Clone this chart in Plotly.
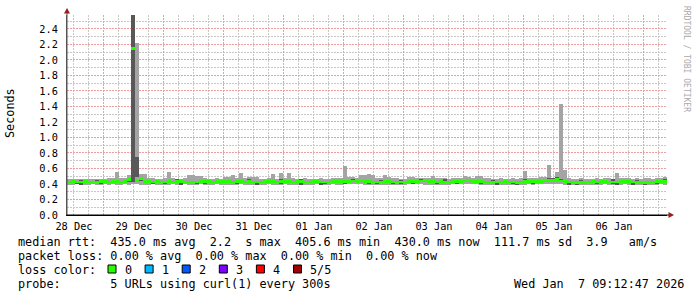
import plotly.graph_objects as go
import pandas as pd

# ---------------- data (milliseconds) ----------------
start = "2025-12-28 09:12:47"
end = "2026-01-07 09:12:47"
bin_minutes = 96

median_ms = [
    425,428,424,426,430,427,422,425,428,431,
    426,429,432,427,430,462,2150,440,475,436,
    428,425,430,427,424,429,426,431,428,425,
    422,418,424,430,433,428,426,430,435,432,
    429,427,431,428,425,430,427,424,426,429,
    431,428,426,430,433,429,426,428,431,427,
    425,428,430,427,424,426,429,432,428,430,
    433,438,435,440,432,429,426,424,427,430,
    428,425,421,424,427,430,433,436,440,438,
    432,429,426,428,425,427,431,434,436,438,
    442,436,432,429,426,423,420,424,427,429,
    426,424,421,425,428,431,429,432,435,438,
    442,448,455,438,430,426,422,420,418,421,
    425,428,426,430,433,427,424,426,429,431,
    428,425,422,420,418,421,425,428,431,429,
]
smoke_hi_ms = [
    465,468,462,466,470,464,468,463,466,470,
    472,478,555,480,475,516,2580,2220,530,525,
    478,472,468,470,475,550,474,468,470,472,
    520,520,500,500,475,470,468,472,466,494,
    494,516,472,546,478,494,494,494,470,468,
    472,529,470,546,480,546,475,470,468,472,
    466,470,468,472,470,468,475,478,480,636,
    490,485,482,520,520,529,510,478,474,516,
    485,478,472,470,468,494,494,480,476,478,
    474,502,482,478,474,470,472,476,480,500,
    486,478,500,500,482,476,470,468,472,470,
    468,472,470,474,572,478,475,480,485,490,
    645,480,559,1432,580,478,470,468,472,470,
    466,468,472,470,474,478,470,546,480,476,
    472,470,474,468,472,476,470,474,478,490,
]
smoke_lo_ms = [
    392,388,395,390,386,393,398,390,387,394,
    390,395,388,392,396,390,400,398,392,388,
    391,395,389,393,386,390,394,388,392,396,
    388,384,390,395,392,388,391,395,389,393,
    390,386,392,395,389,393,390,386,388,392,
    395,390,387,392,396,391,388,393,390,386,
    389,393,396,390,387,392,395,391,388,394,
    397,400,398,395,392,389,386,384,388,392,
    390,387,384,388,391,394,397,399,395,392,
    393,390,387,389,386,391,394,396,398,400,
    402,398,394,391,388,386,383,387,390,392,
    389,386,384,388,392,395,392,394,397,400,
    402,404,400,398,392,388,385,384,382,385,
    388,391,389,392,395,390,387,388,391,394,
    391,388,385,383,381,384,388,391,394,392,
]
dark_hi_ms = [
    440,445,438,452,446,442,437,455,443,448,
    441,447,450,442,445,480,2580,750,490,452,
    443,440,458,442,439,445,441,460,443,440,
    437,433,440,447,450,443,441,456,451,448,
    445,442,448,443,440,462,442,439,441,445,
    447,443,441,460,449,445,441,443,462,442,
    440,443,446,442,439,441,458,448,443,447,
    450,465,452,458,448,444,441,439,455,446,
    443,440,436,458,442,446,449,452,468,454,
    448,444,441,443,462,442,447,450,452,455,
    468,452,448,444,441,438,455,439,442,445,
    441,439,436,440,470,447,445,448,451,455,
    472,478,490,470,446,441,437,435,452,436,
    440,443,441,446,449,442,460,441,445,447,
    443,440,458,435,433,437,440,443,447,462,
]
dark_lo_ms = [
    410,412,406,390,414,408,405,410,395,412,
    408,411,414,409,412,430,430,490,445,418,
    410,396,412,409,405,411,408,413,392,407,
    404,400,406,412,395,410,408,412,417,414,
    411,409,394,410,407,412,409,392,408,411,
    413,410,408,395,415,411,408,410,393,409,
    407,410,412,392,406,408,411,414,410,395,
    415,420,417,422,414,398,408,406,409,412,
    410,394,403,406,409,412,396,418,422,420,
    414,411,395,410,407,409,413,398,418,420,
    424,418,414,396,408,405,402,388,409,411,
    408,406,390,407,410,413,398,414,417,420,
    424,430,435,420,412,392,404,386,400,403,
    407,410,394,412,415,409,406,390,411,413,
    410,392,404,402,385,403,407,398,413,411,
]

y_ticks = [0.0, 0.2, 0.4, 0.6, 0.8, 1.0, 1.2, 1.4, 1.6, 1.8, 2.0, 2.2, 2.4]

legend_lines = [
    "median rtt:  435.0 ms avg  2.2  s max  405.6 ms min  430.0 ms now  111.7 ms sd  3.9   am/s",
    "packet loss: 0.00 % avg  0.00 % max  0.00 % min  0.00 % now",
    "loss color:",
    "probe:       5 URLs using curl(1) every 300s",
]
loss_labels = ["0", "1", "2", "3", "4", "5/5"]
loss_colors = ["#26ff00", "#00b8ff", "#0059ff", "#7e00ff", "#ff0000", "#a00000"]
timestamp = "Wed Jan  7 09:12:47 2026"
watermark = "RRDTOOL / TOBI OETIKER"

# ---------------- derived ----------------
n = len(median_ms)
times = pd.date_range(start, periods=n, freq=f"{bin_minutes}min") + pd.Timedelta(minutes=bin_minutes / 2)
bw = bin_minutes * 60 * 1000
s = lambda a: [v / 1000 for v in a]

# plot area in pixels
L, R, T, B = 67, 667, 15, 215
W, H = R - L, B - T
px = lambda x: (x - L) / W
py = lambda y: (B - y) / H

fig = go.Figure()
fig.add_bar(x=times, base=s(smoke_lo_ms), y=[(h - l) / 1000 for h, l in zip(smoke_hi_ms, smoke_lo_ms)],
            width=bw, marker=dict(color="#a4a4a4", line=dict(width=0)))
fig.add_bar(x=times, base=s(dark_lo_ms), y=[(h - l) / 1000 for h, l in zip(dark_hi_ms, dark_lo_ms)],
            width=bw, marker=dict(color="#585858", line=dict(width=0)))
thick = 2.7 / (H / 2.58)
fig.add_bar(x=times, base=[m / 1000 - thick / 2 for m in median_ms], y=[thick] * n,
            width=bw, marker=dict(color=loss_colors[0], line=dict(width=0)))

mono = "DejaVu Sans Mono"
major_grid = "#eaa0a0"
minor_grid = "#c8c8c8"

fig.update_layout(
    width=697, height=297,
    margin=dict(l=L, r=697 - R, t=T, b=297 - B),
    plot_bgcolor="white", paper_bgcolor="white",
    barmode="overlay", bargap=0, showlegend=False,
    font=dict(family=mono, size=10.3, color="#000"),
    xaxis=dict(
        type="date", range=[start, end],
        dtick=86400000, tick0="2025-12-28", tickformat="%d %b", ticklabelmode="period",
        showgrid=True, gridcolor=major_grid, griddash="2px,1px", gridwidth=1,
        minor=dict(dtick=21600000, tick0="2025-12-28", showgrid=True,
                   gridcolor=minor_grid, griddash="2px,1px", gridwidth=1),
        showline=True, linecolor="#000", linewidth=1, ticks="", zeroline=False,
        ticklabelstandoff=2,
        tickfont=dict(family=mono, size=10.3, color="#000"),
    ),
    yaxis=dict(
        range=[0, 2.58], tickvals=y_ticks, tickformat=".1f",
        showgrid=True, gridcolor=major_grid, griddash="2px,1px", gridwidth=1,
        minor=dict(dtick=0.1, tick0=0, showgrid=True, gridcolor=minor_grid, griddash="2px,1px"),
        showline=True, linecolor="#555", linewidth=1, ticks="", zeroline=False,
        ticklabelstandoff=6,
        tickfont=dict(family=mono, size=10.3, color="#000"),
    ),
)

shapes = []
# axis extensions & arrows
shapes.append(dict(type="line", xref="paper", yref="paper", x0=px(67), x1=px(67), y0=py(215), y1=py(11),
                   line=dict(color="#555", width=1)))
shapes.append(dict(type="line", xref="paper", yref="paper", x0=px(67), x1=px(671), y0=py(215), y1=py(215),
                   line=dict(color="#000", width=1)))
shapes.append(dict(type="path", xref="paper", yref="paper",
                   path=f"M {px(64)} {py(13.5)} L {px(70)} {py(13.5)} L {px(67)} {py(8)} Z",
                   fillcolor="#9b1c1c", line=dict(width=0)))
shapes.append(dict(type="path", xref="paper", yref="paper",
                   path=f"M {px(668.5)} {py(212)} L {px(668.5)} {py(218)} L {px(674)} {py(215)} Z",
                   fillcolor="#9b1c1c", line=dict(width=0)))

annotations = []
line_y = [241.5, 255.5, 269.5, 283.5]
for txt, yy in zip(legend_lines, line_y):
    annotations.append(dict(text=txt.replace(" ", "&nbsp;"), xref="paper", yref="paper", x=px(15.5), y=py(yy),
                            xanchor="left", yanchor="middle", showarrow=False,
                            font=dict(family=mono, size=11.8, color="#000")))
for k, (lab, col) in enumerate(zip(loss_labels, loss_colors)):
    bx = 108 + 37.1 * k
    shapes.append(dict(type="rect", xref="paper", yref="paper",
                       x0=px(bx), x1=px(bx + 8), y0=py(273), y1=py(265),
                       fillcolor=col, line=dict(color="#000", width=1)))
    annotations.append(dict(text=lab, xref="paper", yref="paper", x=px(bx + 14.5), y=py(269.5),
                            xanchor="left", yanchor="middle", showarrow=False,
                            font=dict(family=mono, size=11.8, color="#000")))
annotations.append(dict(text=timestamp.replace(" ", "&nbsp;"), xref="paper", yref="paper", x=px(512), y=py(283.5),
                        xanchor="left", yanchor="middle", showarrow=False,
                        font=dict(family=mono, size=11.8, color="#000")))
annotations.append(dict(text="Seconds", xref="paper", yref="paper", x=px(10), y=py(113),
                        xanchor="center", yanchor="middle", textangle=-90, showarrow=False,
                        font=dict(family=mono, size=11.8, color="#000")))
annotations.append(dict(text=watermark, xref="paper", yref="paper", x=px(686), y=py(59),
                        xanchor="center", yanchor="middle", textangle=90, showarrow=False,
                        font=dict(family=mono, size=8, color="#aaaaaa")))

fig.update_layout(shapes=shapes, annotations=annotations)
fig.write_html("out.html")
